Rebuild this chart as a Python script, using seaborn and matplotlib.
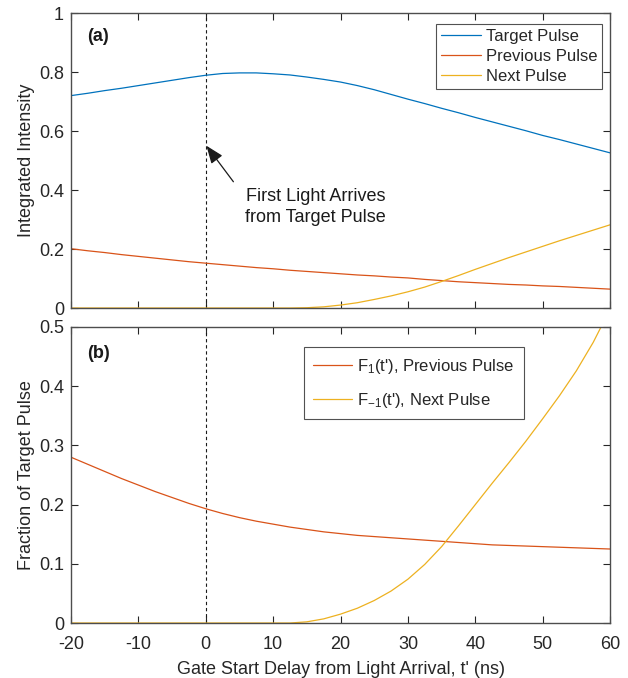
import matplotlib
matplotlib.use("Agg")
import matplotlib.pyplot as plt
import seaborn as sns

# ---------------- data ----------------
t_main = [-20, -17.5, -15, -12.5, -10, -7.5, -5, -2.5, 0, 2.5, 5, 7.5, 10, 12.5, 15, 17.5,
          20, 22.5, 25, 27.5, 30, 32.5, 35, 37.5, 40, 42.5, 45, 47.5, 50, 52.5, 55, 57.5, 60]
target_pulse = [0.720, 0.728, 0.737, 0.745, 0.754, 0.763, 0.772, 0.781, 0.789, 0.795, 0.797,
                0.797, 0.794, 0.790, 0.783, 0.775, 0.766, 0.754, 0.740, 0.724, 0.708, 0.693,
                0.677, 0.662, 0.646, 0.631, 0.616, 0.601, 0.585, 0.571, 0.556, 0.541, 0.526]
previous_pulse = [0.201, 0.194, 0.188, 0.181, 0.175, 0.169, 0.163, 0.157, 0.152, 0.147, 0.142,
                  0.137, 0.133, 0.128, 0.124, 0.120, 0.116, 0.112, 0.109, 0.105, 0.102, 0.097,
                  0.093, 0.089, 0.086, 0.083, 0.080, 0.078, 0.075, 0.073, 0.070, 0.067, 0.064]

t_next = [-20, 12.5, 15, 17.5, 20, 22.5, 25, 27.5, 30, 32.5, 35, 37.5, 40, 42.5, 45,
          47.5, 50, 52.5, 55, 57.5, 60]
next_pulse = [0.0, 0.0, 0.001, 0.004, 0.010, 0.018, 0.029, 0.041, 0.055, 0.071, 0.090,
              0.110, 0.131, 0.151, 0.171, 0.190, 0.209, 0.228, 0.246, 0.264, 0.282]

frac_prev = [0.280, 0.268, 0.256, 0.244, 0.233, 0.222, 0.212, 0.202, 0.193, 0.185, 0.178,
             0.172, 0.167, 0.162, 0.158, 0.154, 0.151, 0.148, 0.146, 0.144, 0.142, 0.140,
             0.138, 0.136, 0.134, 0.132, 0.131, 0.130, 0.129, 0.128, 0.127, 0.126, 0.125]
frac_next = [0.0, 0.0, 0.002, 0.007, 0.015, 0.025, 0.038, 0.054, 0.074, 0.099, 0.129,
             0.164, 0.200, 0.236, 0.271, 0.307, 0.345, 0.384, 0.426, 0.474, 0.530]

x_ticks = [-20, -10, 0, 10, 20, 30, 40, 50, 60]
y_ticks_a = [0, 0.2, 0.4, 0.6, 0.8, 1]
y_ticks_b = [0, 0.1, 0.2, 0.3, 0.4, 0.5]

# ---------------- style ----------------
sns.set_theme(style="white")
plt.rcParams['font.family'] = ['Liberation Sans', 'DejaVu Sans']
plt.rcParams['mathtext.fontset'] = 'custom'
plt.rcParams['mathtext.rm'] = 'Liberation Sans'
plt.rcParams['mathtext.it'] = 'Liberation Sans'
plt.rcParams['mathtext.default'] = 'regular'

C_BLUE = '#0072BD'
C_RED = '#D95319'
C_YEL = '#EDB120'
AX_COL = '#262626'
FS = 13
LFS = 12

fig = plt.figure(figsize=(6.28, 6.78), dpi=100)
ax1 = fig.add_axes([0.1131, 0.5457, 0.8583, 0.4351])
ax2 = fig.add_axes([0.1131, 0.0811, 0.8583, 0.4366])

lw = 0.9
sns.lineplot(x=t_main, y=target_pulse, ax=ax1, color=C_BLUE, lw=lw, label='Target Pulse')
sns.lineplot(x=t_main, y=previous_pulse, ax=ax1, color=C_RED, lw=lw, label='Previous Pulse')
sns.lineplot(x=t_next, y=next_pulse, ax=ax1, color=C_YEL, lw=lw, label='Next Pulse')

sns.lineplot(x=t_main, y=frac_prev, ax=ax2, color=C_RED, lw=lw, label="F$_{1}$(t'), Previous Pulse")
sns.lineplot(x=t_next, y=frac_next, ax=ax2, color=C_YEL, lw=lw, label="F$_{-1}$(t'), Next Pulse")

for ax, yt, ylim in [(ax1, y_ticks_a, (0, 1)), (ax2, y_ticks_b, (0, 0.5))]:
    ax.axvline(0, color='k', ls=(0, (3, 2.5)), lw=0.8, zorder=1)
    ax.set_xlim(-20, 60)
    ax.set_ylim(*ylim)
    ax.set_xticks(x_ticks)
    ax.set_yticks(yt)
    ax.set_yticklabels([('%g' % v) for v in yt])
    ax.tick_params(direction='in', length=5, width=0.8, color=AX_COL,
                   labelsize=FS, labelcolor=AX_COL, top=True, right=True,
                   bottom=True, left=True)
    ax.tick_params(axis='y', pad=5)
    ax.tick_params(axis='x', pad=9)
    for s in ax.spines.values():
        s.set_color('#4d4d4d')
        s.set_linewidth(1.0)
        s.set_visible(True)

ax1.set_xticklabels([])
ax2.set_xticklabels([('%g' % v) for v in x_ticks])

ax1.set_ylabel('Integrated Intensity', fontsize=FS, color=AX_COL, labelpad=3)
ax2.set_ylabel('Fraction of Target Pulse', fontsize=FS, color=AX_COL, labelpad=3)
ax2.set_xlabel("Gate Start Delay from Light Arrival, t' (ns)", fontsize=FS, color=AX_COL, labelpad=6)
ax1.set_xlabel('')

ax1.text(0.030, 0.92, '(a)', transform=ax1.transAxes, fontsize=FS, fontweight='bold',
         ha='left', va='center', color='k')
ax2.text(0.030, 0.91, '(b)', transform=ax2.transAxes, fontsize=FS, fontweight='bold',
         ha='left', va='center', color='k')

ax1.annotate('', xy=(0.1, 0.55), xytext=(4.1, 0.428),
             arrowprops=dict(arrowstyle='-|>,head_length=0.9,head_width=0.35', color='k',
                             lw=0.9, shrinkA=0, shrinkB=0))
ax1.text(16.3, 0.343, 'First Light Arrives\nfrom Target Pulse', fontsize=FS,
         ha='center', va='center', color='k', linespacing=1.3)

leg1 = ax1.legend(loc='upper right', bbox_to_anchor=(0.986, 0.962), borderaxespad=0,
                  fontsize=LFS, frameon=True, fancybox=False, handlelength=2.4,
                  handletextpad=0.3, labelspacing=0.3, borderpad=0.3)
leg1.get_frame().set_edgecolor(AX_COL)
leg1.get_frame().set_linewidth(0.8)
leg2 = ax2.legend(loc='upper right', bbox_to_anchor=(0.840, 0.931), borderaxespad=0,
                  fontsize=LFS, frameon=True, fancybox=False, handlelength=2.35,
                  handletextpad=0.3, labelspacing=0.9, borderpad=0.55)
leg2.get_frame().set_edgecolor(AX_COL)
leg2.get_frame().set_linewidth(0.8)

fig.savefig('out.png', dpi=100, facecolor='white')
